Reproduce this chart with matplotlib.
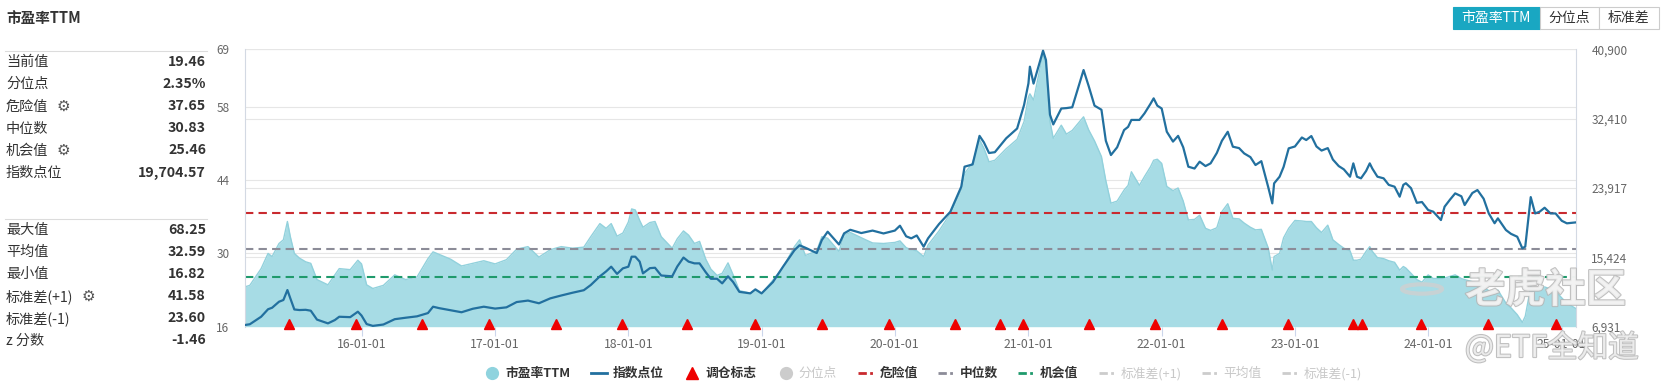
import matplotlib.pyplot as plt
import matplotlib.dates as mdates
import matplotlib.patheffects as path_effects
from matplotlib.lines import Line2D
from matplotlib.patches import Rectangle, Circle
from matplotlib.transforms import blended_transform_factory
import pandas as pd

plt.rcParams['font.family'] = ['Noto Sans CJK SC', 'DejaVu Sans']

# data
dates = [
    '2015-02-15', '2015-03-01', '2015-04-01', '2015-04-20', '2015-05-01', '2015-05-20', '2015-06-01',
    '2015-06-12', '2015-06-20', '2015-07-01', '2015-07-15', '2015-08-01', '2015-08-15', '2015-09-01',
    '2015-10-01', '2015-10-20', '2015-11-01', '2015-12-01', '2015-12-22', '2016-01-01', '2016-01-15',
    '2016-02-01', '2016-03-01', '2016-04-01', '2016-05-01', '2016-06-01', '2016-07-01', '2016-07-15',
    '2016-08-01', '2016-09-01', '2016-10-01', '2016-11-01', '2016-12-01', '2017-01-01', '2017-02-01',
    '2017-03-01', '2017-04-01', '2017-05-01', '2017-06-01', '2017-07-01', '2017-08-01', '2017-09-01',
    '2017-09-20', '2017-10-01', '2017-10-15', '2017-11-01', '2017-11-15', '2017-12-01', '2017-12-17',
    '2018-01-01', '2018-01-10', '2018-01-20', '2018-02-01', '2018-02-10', '2018-03-01', '2018-03-15',
    '2018-04-01', '2018-05-01', '2018-05-15', '2018-06-01', '2018-06-15', '2018-07-01', '2018-07-15',
    '2018-08-01', '2018-08-15', '2018-09-01', '2018-09-15', '2018-10-01', '2018-10-15', '2018-11-01',
    '2018-12-01', '2018-12-15', '2019-01-01', '2019-02-01', '2019-03-01', '2019-04-01', '2019-04-15',
    '2019-05-01', '2019-06-01', '2019-06-15', '2019-07-01', '2019-08-01', '2019-08-15', '2019-09-01',
    '2019-10-01', '2019-11-01', '2019-12-01', '2020-01-01', '2020-01-15', '2020-02-01', '2020-02-15',
    '2020-03-01', '2020-03-20', '2020-04-01', '2020-05-01', '2020-06-01', '2020-07-01', '2020-07-10',
    '2020-08-01', '2020-08-20', '2020-09-01', '2020-09-15', '2020-10-01', '2020-11-01', '2020-12-01',
    '2020-12-20', '2021-01-01', '2021-01-05', '2021-01-15', '2021-02-10', '2021-02-18', '2021-03-01',
    '2021-03-10', '2021-04-01', '2021-04-15', '2021-05-01', '2021-06-01', '2021-06-15', '2021-07-01',
    '2021-07-20', '2021-08-01', '2021-08-15', '2021-09-01', '2021-09-20', '2021-10-01', '2021-10-10',
    '2021-11-01', '2021-11-15', '2021-12-01', '2021-12-10', '2021-12-20', '2022-01-01', '2022-01-15',
    '2022-02-01', '2022-02-15', '2022-03-01', '2022-03-15', '2022-04-01', '2022-04-15', '2022-05-01',
    '2022-05-15', '2022-06-01', '2022-06-15', '2022-07-01', '2022-07-15', '2022-08-01', '2022-08-15',
    '2022-09-01', '2022-09-15', '2022-10-01', '2022-10-20', '2022-10-31', '2022-11-05', '2022-11-20',
    '2022-12-01', '2022-12-15', '2023-01-01', '2023-01-20', '2023-02-01', '2023-02-15', '2023-03-01',
    '2023-03-15', '2023-04-01', '2023-04-15', '2023-05-01', '2023-05-15', '2023-06-01', '2023-06-10',
    '2023-06-20', '2023-07-01', '2023-07-15', '2023-07-25', '2023-08-01', '2023-08-15', '2023-09-01',
    '2023-09-15', '2023-10-01', '2023-10-15', '2023-10-25', '2023-11-01', '2023-11-15', '2023-12-01',
    '2023-12-15', '2024-01-01', '2024-01-15', '2024-02-05', '2024-02-15', '2024-03-01', '2024-03-15',
    '2024-04-01', '2024-04-10', '2024-05-01', '2024-05-15', '2024-06-01', '2024-06-15', '2024-07-01',
    '2024-07-10', '2024-08-01', '2024-08-15', '2024-09-01', '2024-09-15', '2024-09-23', '2024-10-08',
    '2024-10-20', '2024-11-01', '2024-11-15', '2024-12-01', '2024-12-15', '2025-01-01', '2025-01-15',
    '2025-02-09',
]
pe_ttm = [
    23.6, 23.9, 27.1, 30.0, 29.4, 31.9, 32.6,
    36.1, 33.2, 30.0, 29.1, 28.4, 28.1, 25.0,
    24.0, 25.9, 27.1, 26.9, 28.7, 28.0, 24.0,
    23.3, 23.9, 25.9, 25.0, 25.5, 29.0, 30.3,
    29.8, 28.9, 27.6, 28.1, 28.6, 28.0, 28.8,
    30.8, 31.3, 29.3, 30.7, 31.3, 31.0, 31.2,
    33.2, 34.3, 35.7, 34.8, 35.7, 33.3, 33.9,
    36.0, 38.5, 38.3, 36.3, 35.0, 35.9, 36.1,
    33.2, 31.0, 32.8, 34.3, 33.5, 31.9, 32.3,
    28.9, 27.0, 25.8, 26.2, 28.2, 25.9, 22.9,
    22.4, 23.0, 22.3, 24.9, 27.4, 31.3, 32.6,
    29.6, 30.5, 33.2, 32.9, 30.4, 33.5, 34.0,
    33.0, 32.0, 31.9, 32.1, 32.4, 31.1, 30.7,
    30.5, 29.4, 31.6, 34.3, 37.6, 42.1, 45.3,
    47.3, 51.7, 50.1, 47.5, 47.8, 50.0, 51.8,
    55.2, 59.9, 60.5, 59.3, 68.25, 66.0, 55.2,
    52.0, 54.5, 52.8, 53.5, 56.1, 53.6, 51.5,
    48.5, 43.9, 39.6, 40.0, 42.1, 43.0, 45.6,
    43.0, 44.7, 46.5, 47.8, 48.0, 47.2, 42.8,
    42.0, 42.5, 40.0, 36.4, 36.5, 37.3, 34.8,
    34.4, 34.9, 38.0, 39.5, 36.7, 36.6, 35.8,
    35.0, 34.5, 34.6, 31.0, 26.8, 29.4, 30.0,
    33.0, 34.8, 36.3, 36.2, 36.1, 36.1, 34.9,
    34.0, 35.4, 32.6, 31.7, 31.0, 30.5, 28.7,
    28.7, 28.9, 30.4, 31.3, 30.4, 29.2, 29.0,
    28.6, 28.3, 26.8, 27.5, 27.2, 26.2, 25.0,
    24.5, 25.9, 25.2, 25.2, 25.3, 25.6, 25.9,
    25.2, 25.0, 24.6, 24.3, 23.5, 22.9, 22.5,
    23.0, 20.5, 19.6, 18.3, 16.82, 18.0, 23.6,
    23.0, 23.3, 23.6, 23.2, 22.8, 21.5, 20.5,
    19.46,
]
index_pts = [
    7135, 7230, 8150, 9070, 9250, 9990, 10200,
    11421, 10400, 9040, 8970, 9000, 8890, 7800,
    7339, 7747, 8150, 8100, 8768, 8300, 7257,
    7030, 7200, 7850, 8030, 8200, 8600, 9380,
    9200, 8950, 8700, 9130, 9380, 9150, 9300,
    9950, 10130, 9800, 10400, 10750, 11090, 11400,
    12034, 12500, 13100, 13700, 14279, 13400, 14074,
    14279, 15503, 15503, 14900, 13462, 14100, 14150,
    13200, 13100, 14300, 15400, 14900, 14687, 14687,
    13600, 12800, 12800, 12238, 13100, 12400, 11200,
    11013, 11503, 11013, 12400, 14300, 16300, 16900,
    16600, 15950, 17544, 18565, 17000, 18361, 18800,
    18400, 18700, 18350, 18700, 19300, 18000, 17750,
    18100, 16728, 17748, 19500, 21000, 24075, 26525,
    26800, 30300, 29500, 28200, 28300, 30000, 31200,
    34076, 36730, 38771, 36700, 40730, 39587, 32900,
    31700, 33650, 33700, 33800, 38362, 36400, 34000,
    33500, 29700, 27953, 28900, 31014, 31400, 32250,
    32250, 33055, 34200, 34892, 34000, 33650, 30810,
    29600, 30300, 28900, 26525, 26300, 27137, 26600,
    26933, 28200, 29700, 30800, 28974, 28800, 28150,
    27700, 26729, 27200, 24000, 22035, 24484, 25300,
    26500, 28770, 29000, 30100, 29790, 30280, 29000,
    28500, 28800, 27400, 26600, 26200, 25300, 26933,
    25300, 25100, 26000, 26933, 26300, 25300, 25100,
    24300, 24075, 22851, 24300, 24500, 23900, 22100,
    22200, 21218, 21014, 19993, 21626, 22500, 23259,
    22900, 21830, 23300, 23667, 22600, 20810, 19600,
    20200, 18770, 18300, 17950, 16530, 16740, 22800,
    20800, 21000, 21500, 20800, 20800, 19900, 19590,
    19705,
]
rebalance_dates = [
    '2015-06-15', '2015-12-18', '2016-06-16', '2016-12-15', '2017-06-16', '2017-12-14',
    '2018-06-12', '2018-12-15', '2019-06-16', '2019-12-17', '2020-06-15', '2020-10-14',
    '2020-12-16', '2021-06-15', '2021-12-13', '2022-06-14', '2022-12-12', '2023-06-10',
    '2023-07-05', '2023-12-12', '2024-06-14', '2024-12-16',
]

danger_val = 37.65
median_val = 30.83
chance_val = 25.46

pe_ticks = [16, 30, 44, 58, 69]
idx_ticks = [6931, 15424, 23917, 32410, 40900]

top_labels = ['当前值', '分位点', '危险值', '中位数', '机会值', '指数点位']
top_values = ['19.46', '2.35%', '37.65', '30.83', '25.46', '19,704.57']
bottom_labels = ['最大值', '平均值', '最小值', '标准差(+1)', '标准差(-1)', 'z 分数']
bottom_values = ['68.25', '32.59', '16.82', '41.58', '23.60', '-1.46']

dates = pd.to_datetime(dates)
rebalance_dates = pd.to_datetime(rebalance_dates)

W, H = 1664, 389
area_color = '#a7dce5'
line_color = '#22709f'
grid_color = '#e6e6e6'
text_color = '#333333'

fig = plt.figure(figsize=(W / 100, H / 100), dpi=100)
ax = fig.add_axes([244.7 / W, (H - 326.7) / H, 1331.3 / W, 277.4 / H])
ax2 = ax.twinx()

ax.set_xlim(pd.Timestamp('2015-02-15'), pd.Timestamp('2025-02-09'))
ax.set_ylim(16, 69)
ax2.set_ylim(6931, 40900)

# grid lines for both scales, kept under the area
ax.set_yticks(pe_ticks)
ax.grid(axis='y', color=grid_color, lw=0.8, zorder=0)
ax.set_axisbelow(True)
ax2.set_yticks(idx_ticks)
ax2.set_yticklabels([f'{v:,}' for v in idx_ticks])
trans = blended_transform_factory(ax.transAxes, ax2.transData)
for v in idx_ticks:
    ax.plot([0, 1], [v, v], transform=trans, color=grid_color, lw=0.8, zorder=0.5)

# PE area
ax.fill_between(dates, pe_ttm, 16, color=area_color, lw=0, zorder=1)
ax.plot(dates, pe_ttm, color='#92d1dc', lw=1, zorder=1.2)

# reference levels
ax.axhline(danger_val, color='#c92a2f', lw=1.5, ls=(0, (4, 2.5)), zorder=2)
ax.axhline(median_val, color='#8c8c98', lw=1.5, ls=(0, (4, 2.5)), zorder=2)
ax.axhline(chance_val, color='#1f9a6c', lw=1.5, ls=(0, (4, 2.5)), zorder=2)

# index line and rebalance markers
ax2.plot(dates, index_pts, color=line_color, lw=1.6, zorder=3)
ax2.plot(rebalance_dates, [0.01] * len(rebalance_dates), '^', color='#ee0000', ms=7.5,
         transform=ax2.get_xaxis_transform(), clip_on=False, zorder=4)

# axes styling
for s in ax.spines.values():
    s.set_visible(False)
ax2.spines['top'].set_visible(False)
ax2.spines['bottom'].set_visible(False)
ax2.spines['left'].set_color('#d3d9e3')
ax2.spines['right'].set_color('#d3d9e3')
ax.tick_params(axis='y', length=0, pad=11, labelsize=8.5, labelcolor='#666666')
ax2.tick_params(axis='y', length=0, pad=11, labelsize=8.5, labelcolor='#666666')
ax.xaxis.set_major_locator(mdates.YearLocator())
ax.xaxis.set_major_formatter(mdates.DateFormatter('%y-%m-%d'))
ax.tick_params(axis='x', length=6.5, width=0.8, color='#ccd6eb', pad=1.5,
               labelsize=8.8, labelcolor='#666666')

# title and stats panel
fig.text(6 / W, 1 - 17.5 / H, '市盈率TTM', fontsize=10.5, weight='bold', va='center', color=text_color)
for y in [50.5, 218.5]:
    fig.add_artist(Line2D([5 / W, 207 / W], [1 - y / H, 1 - y / H], color='#dcdcdc', lw=0.8))
top_rows = [62, 84, 106.5, 128.5, 150.5, 172.5]
bottom_rows = [230, 252, 274, 296.5, 318.5, 340.5]
for labels, values, rows in [(top_labels, top_values, top_rows),
                             (bottom_labels, bottom_values, bottom_rows)]:
    for lab, val, y in zip(labels, values, rows):
        fig.text(6 / W, 1 - y / H, lab, fontsize=10.2, va='center', color=text_color)
        fig.text(206 / W, 1 - y / H, val, fontsize=10.2, weight='bold', va='center',
                 ha='right', color=text_color)
for gx, gy in [(63, 106.5), (63, 150.5), (88, 296.5)]:
    fig.text(gx / W, 1 - gy / H, '⚙', fontsize=11, va='center', ha='center', color='#555555',
             family=['DejaVu Sans'])

# switch buttons at top right
buttons = [('市盈率TTM', 1452.7, 1540.0, True), ('分位点', 1540.0, 1599.3, False),
           ('标准差', 1599.3, 1658.7, False)]
for txt, x0, x1, active in buttons:
    fig.add_artist(Rectangle((x0 / W, 1 - 29.3 / H), (x1 - x0) / W, 22.6 / H,
                             transform=fig.transFigure,
                             facecolor='#19a7c2' if active else 'white',
                             edgecolor='#19a7c2' if active else '#cccccc', lw=0.8))
    fig.text((x0 + x1) / 2 / W, 1 - 18 / H, txt, fontsize=10, ha='center', va='center',
             color='white' if active else text_color)

# legend
dashdot = (0, (3, 1.2, 1, 1.2))
handles = [
    Line2D([], [], ls='none', marker='o', ms=8.5, color='#8fd3de'),
    Line2D([], [], color=line_color, lw=2),
    Line2D([], [], ls='none', marker='^', ms=8.5, color='#ee0000'),
    Line2D([], [], ls='none', marker='o', ms=8.5, color='#cccccc'),
    Line2D([], [], color='#c92a2f', lw=2, ls=dashdot),
    Line2D([], [], color='#8c8c98', lw=2, ls=dashdot),
    Line2D([], [], color='#1f9a6c', lw=2, ls=dashdot),
    Line2D([], [], color='#cccccc', lw=2, ls=dashdot),
    Line2D([], [], color='#cccccc', lw=2, ls=dashdot),
    Line2D([], [], color='#cccccc', lw=2, ls=dashdot),
]
names = ['市盈率TTM', '指数点位', '调仓标志', '分位点', '危险值', '中位数', '机会值',
         '标准差(+1)', '平均值', '标准差(-1)']
inactive = {'分位点', '标准差(+1)', '平均值', '标准差(-1)'}
leg = fig.legend(handles, names, loc='center', bbox_to_anchor=(923 / W, 1 - 373.5 / H),
                 ncol=10, frameon=False, fontsize=9.2, handlelength=1.3, handletextpad=0.4,
                 columnspacing=1.6)
for t in leg.get_texts():
    if t.get_text() in inactive:
        t.set_color('#c8c8c8')
    else:
        t.set_color(text_color)
        t.set_weight('bold')

# watermark
stroke = [path_effects.withStroke(linewidth=1.5, foreground='#b5b5b5')]
fig.add_artist(Circle((1422 / W, 1 - 289 / H), 20 / W, transform=fig.transFigure,
                      fill=False, edgecolor='#d0d0d0', lw=3, alpha=0.8))
fig.text(1465 / W, 1 - 291 / H, '老虎社区', fontsize=29, weight='bold', va='center',
         color='#f2f2f2', alpha=0.85, path_effects=stroke)
fig.text(1465 / W, 1 - 348 / H, '@ETF全知道', fontsize=22, va='center',
         color='#f2f2f2', alpha=0.85, path_effects=stroke)

plt.savefig('out.png', dpi=100)
